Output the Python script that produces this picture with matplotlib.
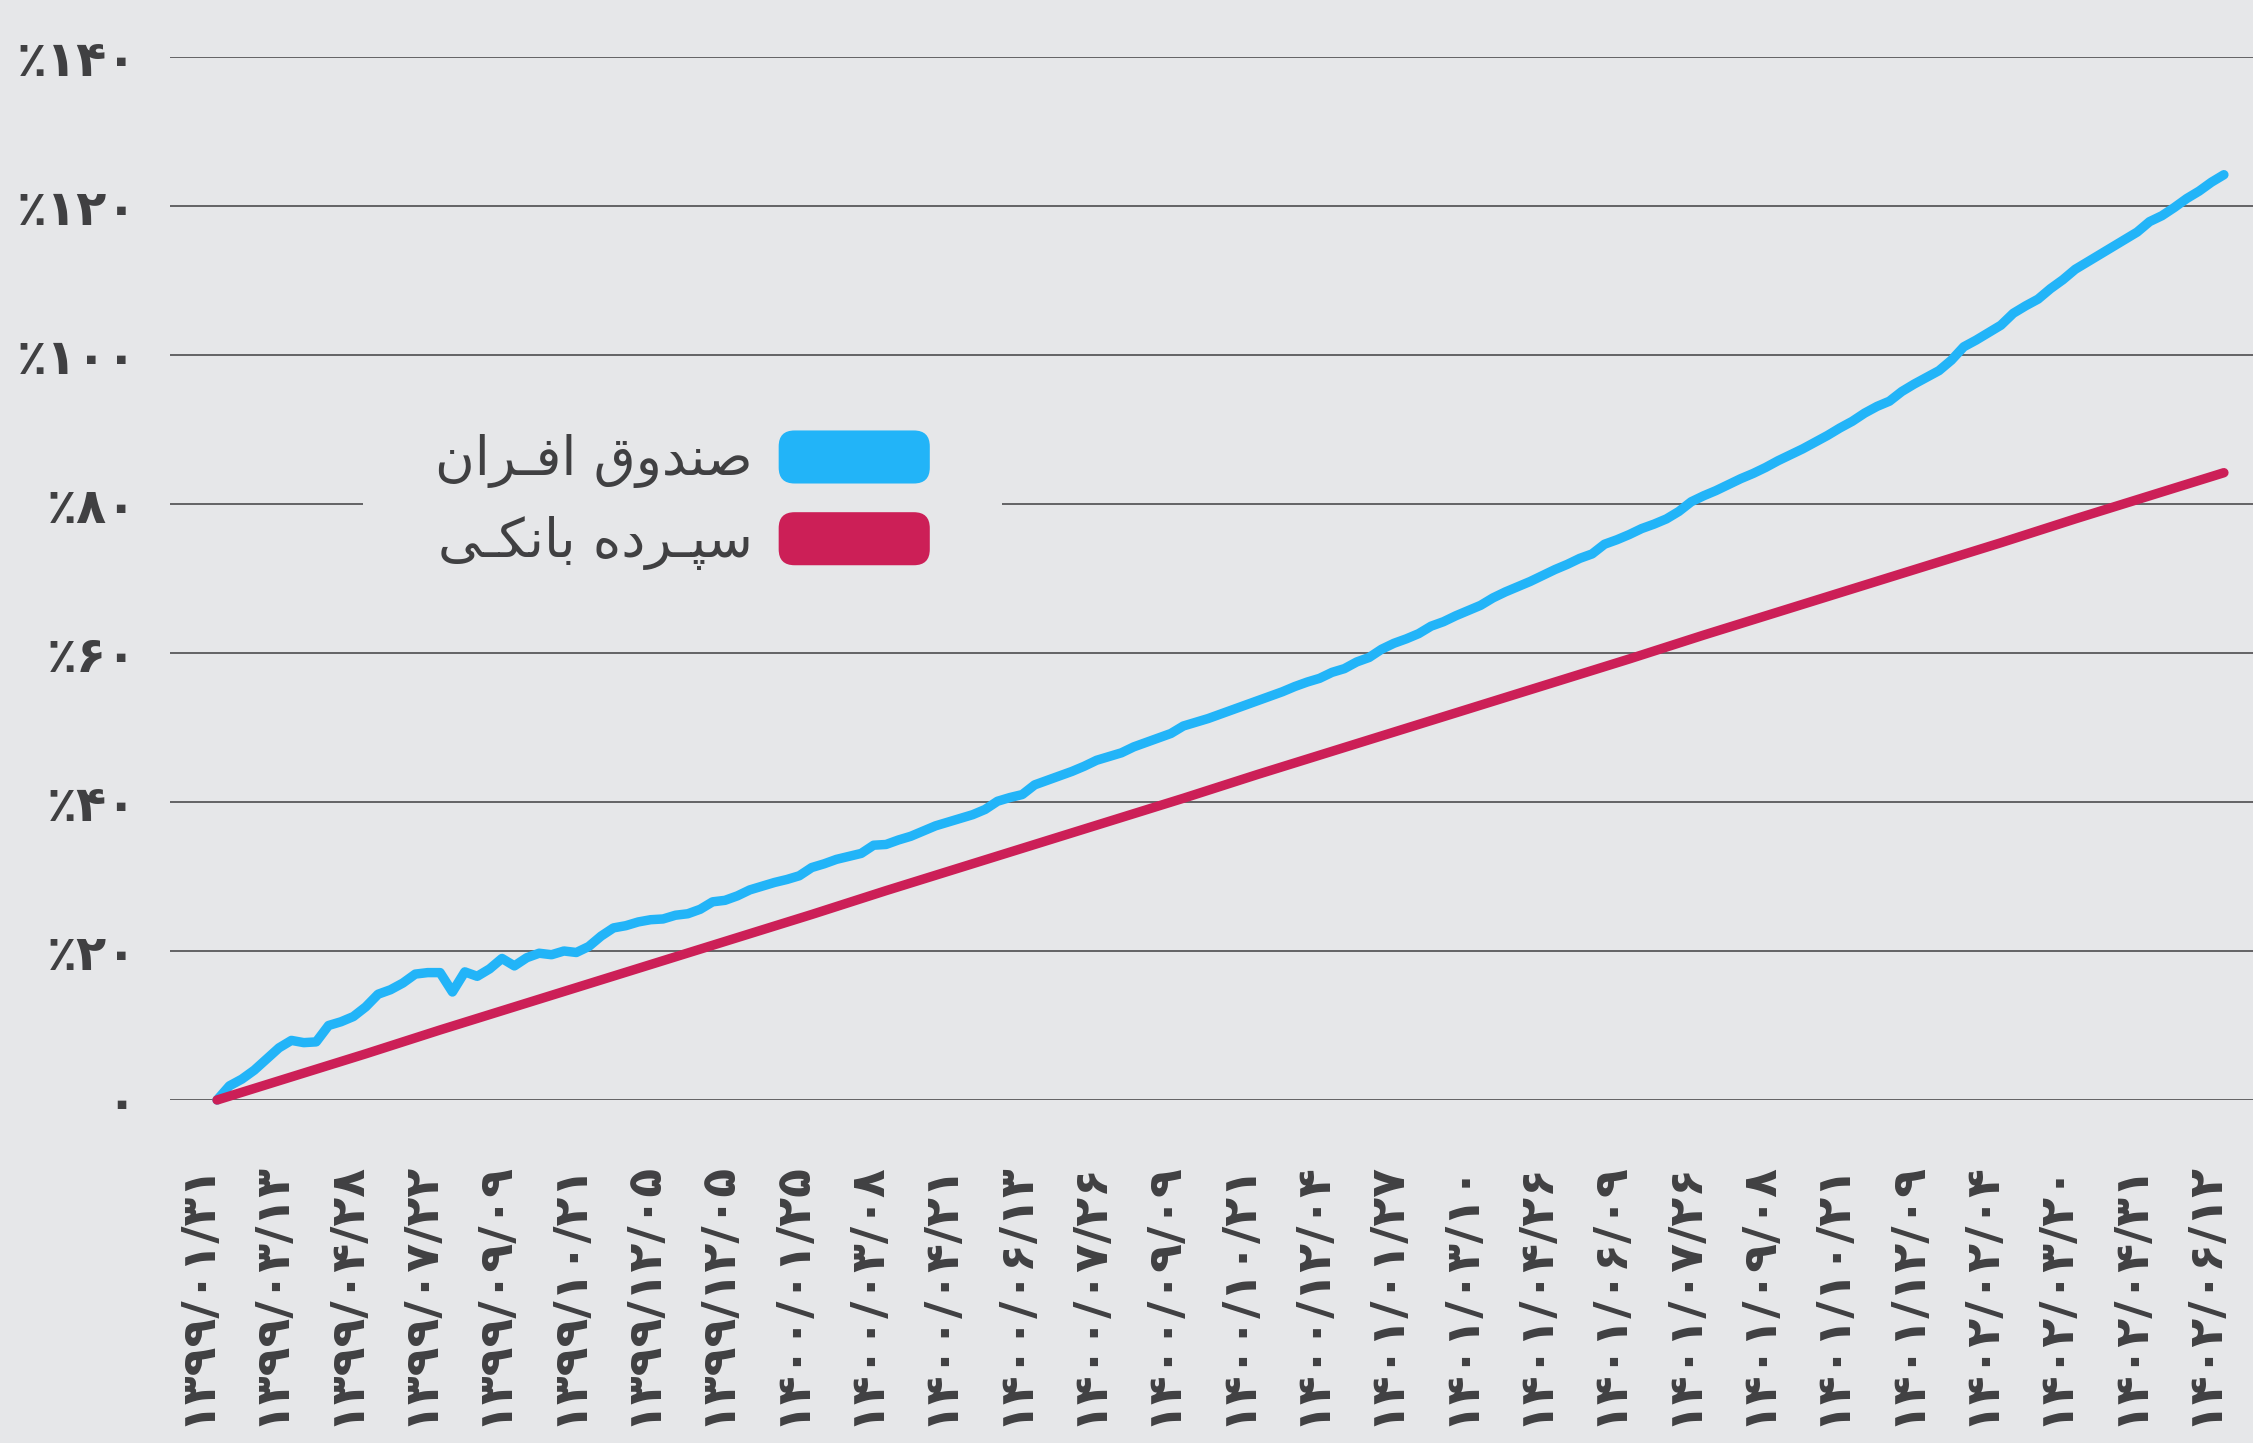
import matplotlib
matplotlib.use('Agg')
import matplotlib.pyplot as plt
import matplotlib.transforms as mtransforms
from matplotlib.patches import Patch, FancyBboxPatch
from matplotlib.legend_handler import HandlerPatch
import numpy as np

# tick dates (one label every 6 samples of the fund series)
dates = ['۱۳۹۹/۰۱/۳۱', '۱۳۹۹/۰۳/۱۳', '۱۳۹۹/۰۴/۲۸', '۱۳۹۹/۰۷/۲۲', '۱۳۹۹/۰۹/۰۹',
         '۱۳۹۹/۱۰/۲۱', '۱۳۹۹/۱۲/۰۵', '۱۳۹۹/۱۲/۰۵', '۱۴۰۰/۰۱/۲۵', '۱۴۰۰/۰۳/۰۸',
         '۱۴۰۰/۰۴/۲۱', '۱۴۰۰/۰۶/۱۳', '۱۴۰۰/۰۷/۲۶', '۱۴۰۰/۰۹/۰۹', '۱۴۰۰/۱۰/۲۱',
         '۱۴۰۰/۱۲/۰۴', '۱۴۰۱/۰۱/۲۷', '۱۴۰۱/۰۳/۱۰', '۱۴۰۱/۰۴/۲۶', '۱۴۰۱/۰۶/۰۹',
         '۱۴۰۱/۰۷/۲۶', '۱۴۰۱/۰۹/۰۸', '۱۴۰۱/۱۰/۲۱', '۱۴۰۱/۱۲/۰۹', '۱۴۰۲/۰۲/۰۴',
         '۱۴۰۲/۰۳/۲۰', '۱۴۰۲/۰۴/۳۱', '۱۴۰۲/۰۶/۱۲']
step = 6

# cumulative return of the fund (%)
afran = [0, 1.9, 2.8, 4.0, 5.5, 7.0, 8.0, 7.7, 7.8, 10.0,
         10.5, 11.2, 12.5, 14.2, 14.8, 15.7, 16.9, 17.1, 17.1, 14.5,
         17.2, 16.6, 17.6, 19.0, 18.0, 19.1, 19.7, 19.5, 20.0, 19.8,
         20.6, 22.0, 23.1, 23.4, 23.9, 24.2, 24.3, 24.8, 25.0, 25.6,
         26.6, 26.8, 27.4, 28.2, 28.7, 29.2, 29.6, 30.1, 31.2, 31.7,
         32.3, 32.7, 33.1, 34.2, 34.3, 34.9, 35.4, 36.1, 36.8, 37.3,
         37.8, 38.3, 39.0, 40.1, 40.6, 41.0, 42.3, 42.9, 43.5, 44.1,
         44.8, 45.6, 46.1, 46.6, 47.4, 48.0, 48.6, 49.2, 50.2, 50.7,
         51.2, 51.8, 52.4, 53.0, 53.6, 54.2, 54.8, 55.5, 56.1, 56.6,
         57.4, 57.9, 58.8, 59.4, 60.5, 61.3, 61.9, 62.6, 63.6, 64.2,
         65.0, 65.7, 66.4, 67.4, 68.2, 68.9, 69.6, 70.4, 71.2, 71.9,
         72.7, 73.3, 74.6, 75.2, 75.9, 76.7, 77.3, 78.0, 79.0, 80.3,
         81.1, 81.8, 82.6, 83.4, 84.1, 84.9, 85.8, 86.6, 87.4, 88.3,
         89.2, 90.2, 91.1, 92.2, 93.1, 93.8, 95.1, 96.1, 97.0, 97.9,
         99.3, 101.1, 102.0, 103.0, 104.0, 105.6, 106.6, 107.5, 108.9, 110.1,
         111.5, 112.5, 113.5, 114.5, 115.5, 116.5, 117.9, 118.7, 119.8, 121.0,
         122.0, 123.2, 124.2]

# bank deposit (%), read at each tick date
bank = [0, 3.1, 6.2, 9.4, 12.5, 15.6, 18.7, 21.8, 24.9, 28.1,
        31.2, 34.3, 37.4, 40.5, 43.7, 46.8, 49.9, 53.0, 56.1, 59.2,
        62.4, 65.5, 68.6, 71.7, 74.8, 78.0, 81.1, 84.2]

y_ticks = [0, 20, 40, 60, 80, 100, 120, 140]
y_labels = ['۰', '٪۲۰', '٪۴۰', '٪۶۰', '٪۸۰', '٪۱۰۰', '٪۱۲۰', '٪۱۴۰']

# legend labels: "صندوق افران" and "سپرده بانکی" in joined, visual (LTR) order
label_afran = '\uFEE5\uFE8D\uFEAE\u0640\uFED3\uFE8D \uFED5\uFEED\uFEAA\uFEE8\uFEBB'
label_bank = '\uFBFD\u0640\uFB91\uFEE7\uFE8E\uFE91 \uFEE9\uFEA9\uFEAE\u0640\uFB59\uFEB3'

bg = '#E6E7E9'
blue = '#22B4F8'
red = '#CC1F57'
txt = '#404042'

plt.rcParams['font.family'] = ['DejaVu Sans']

fig = plt.figure(figsize=(22.53, 14.43), dpi=100, facecolor=bg)
ax = fig.add_axes([170 / 2253, 1 - 1100 / 1443, 2083 / 2253, 1043 / 1443])
ax.set_facecolor(bg)

ax.plot(np.arange(len(afran)), afran, color=blue, lw=6.8, solid_capstyle='round',
        solid_joinstyle='round', clip_on=False, zorder=3)
ax.plot(np.arange(len(bank)) * step, bank, color=red, lw=6.8, solid_capstyle='round',
        clip_on=False, zorder=4)

ax.set_xlim(-3.8, 164.35)
ax.set_ylim(0, 140)

for s in ax.spines.values():
    s.set_visible(False)

ax.set_yticks(y_ticks)
ax.set_yticklabels(y_labels, fontsize=35.5, fontweight='bold', color=txt)
ax.yaxis.grid(True, color='#4D4D4F', lw=1.2)
ax.set_axisbelow(True)

ax.set_xticks(np.arange(len(dates)) * step)
ax.set_xticklabels(dates, rotation=90, fontsize=34, fontweight='bold', color=txt)
ax.tick_params(axis='both', length=0)
ax.tick_params(axis='y', pad=24)
ax.tick_params(axis='x', pad=44)
shift = mtransforms.ScaledTranslation(-0.2, 0, fig.dpi_scale_trans)
for lbl in ax.get_xticklabels():
    lbl.set_transform(lbl.get_transform() + shift)


def rounded(legend, orig_handle, xdescent, ydescent, width, height, fontsize):
    return FancyBboxPatch((-xdescent, -ydescent), width, height,
                          boxstyle='round,pad=0,rounding_size=%f' % (height * 0.3))


leg = ax.legend(handles=[Patch(facecolor=blue, edgecolor='none'),
                         Patch(facecolor=red, edgecolor='none')],
                labels=[label_afran, label_bank],
                loc='center', bbox_to_anchor=(0.246, 0.575),
                markerfirst=False, fontsize=39, handlelength=2.79, handleheight=1.13,
                handletextpad=0.48, labelspacing=0.44, borderpad=1.33,
                frameon=True, facecolor=bg, edgecolor='none', framealpha=1,
                fancybox=False, labelcolor=txt,
                handler_map={Patch: HandlerPatch(patch_func=rounded)})

fig.savefig('out.png', dpi=100, facecolor=bg)
